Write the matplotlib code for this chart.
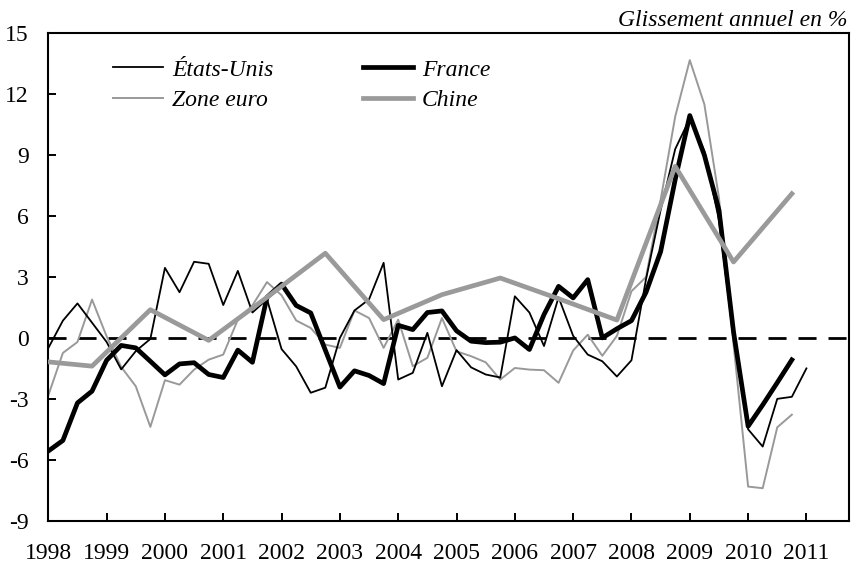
import matplotlib
matplotlib.use("Agg")
import matplotlib.pyplot as plt
import numpy as np
import pandas as pd

# quarterly axis 1998Q1 .. 2011Q4
quarters = pd.period_range("1998Q1", "2011Q4", freq="Q")
years = list(range(1998, 2012))

etats_unis = [-0.5, 0.85, 1.7, 0.75, -0.2, -1.55, -0.65, -0.05,
              3.45, 2.25, 3.75, 3.65, 1.62, 3.3, 1.25, 1.9,
              -0.55, -1.4, -2.7, -2.45, 0.0, 1.35, 1.9, 3.7,
              -2.05, -1.72, 0.25, -2.38, -0.6, -1.45, -1.8, -1.95,
              2.05, 1.25, -0.4, 2.0, 0.1, -0.82, -1.15, -1.9,
              -1.1, 2.9, 6.3, 9.3, 10.8, 9.2, 5.8, 0.0,
              -4.5, -5.35, -3.0, -2.9, -1.5]

france = [-5.57, -5.05, -3.2, -2.62, -1.1, -0.37, -0.49, -1.15,
          -1.82, -1.28, -1.22, -1.8, -1.95, -0.6, -1.2, 2.0,
          2.65, 1.6, 1.23, -0.6, -2.42, -1.62, -1.85, -2.25,
          0.62, 0.41, 1.25, 1.33, 0.35, -0.16, -0.23, -0.21,
          0.0, -0.57, 1.15, 2.54, 1.97, 2.87, 0.0, 0.45,
          0.85, 2.25, 4.25, 7.8, 10.95, 9.0, 6.3, 0.3,
          -4.35, -3.3, -2.2, -1.08]

zone_euro = [-2.83, -0.74, -0.2, 1.89, 0.08, -1.43, -2.38, -4.38,
             -2.08, -2.3, -1.56, -1.07, -0.82, 0.9, 1.6, 2.75,
             2.1, 0.86, 0.49, -0.33, -0.49, 1.35, 0.98, -0.49,
             0.9, -1.39, -0.98, 0.98, -0.66, -0.9, -1.2, -2.05,
             -1.48, -1.56, -1.59, -2.21, -0.62, 0.16, -0.88, 0.1,
             2.3, 3.0, 6.8, 10.9, 13.68, 11.5, 6.9, -0.3,
             -7.32, -7.4, -4.4, -3.78]

chine_quarters = ["1998Q1", "1998Q4", "1999Q4", "2000Q4", "2001Q4", "2002Q4",
                  "2003Q4", "2004Q4", "2005Q4", "2006Q4", "2007Q4", "2008Q4",
                  "2009Q4", "2010Q4"]
chine = [-1.18, -1.39, 1.39, -0.12, 2.0, 4.17, 0.9, 2.13, 2.95, 1.93, 0.88,
         8.45, 3.74, 7.1]

plt.rcParams["font.family"] = ["Liberation Serif", "DejaVu Serif"]
plt.rcParams["axes.unicode_minus"] = False

fig = plt.figure(figsize=(8.54, 5.73), dpi=100)
ax = fig.add_axes([48.3 / 854, 1 - 520.7 / 573, (849 - 48.3) / 854, (520.7 - 33.3) / 573])

pos = {str(q): i for i, q in enumerate(quarters)}
x_us = np.arange(len(etats_unis))
x_fr = np.arange(len(france))
x_eu = np.arange(len(zone_euro))
x_cn = [pos[q] for q in chine_quarters]

ax.axhline(0, color="black", lw=2.0, dashes=(6.5, 4.3), zorder=1)

ax.plot(x_us, etats_unis, color="black", lw=1.3, label="États-Unis", zorder=3)
ax.plot(x_eu, zone_euro, color="#999999", lw=1.4, label="Zone euro", zorder=2)
ax.plot(x_fr, france, color="black", lw=3.4, label="France", zorder=4)
ax.plot(x_cn, chine, color="#9a9a9a", lw=3.4, label="Chine", zorder=5)

ax.set_xlim(0, 54.92)
ax.set_ylim(-9, 15)
ax.set_yticks(range(-9, 16, 3))
ax.set_xticks([pos[f"{y}Q1"] for y in years])
ax.set_xticklabels([str(y) for y in years])

ax.tick_params(axis="both", direction="in", length=6, width=1.4, labelsize=17, colors="black")
ax.tick_params(axis="x", pad=16)
ax.tick_params(axis="y", pad=14, right=False)
for s in ax.spines.values():
    s.set_linewidth(1.5)
    s.set_color("black")

handles, labels = ax.get_legend_handles_labels()
ax.legend(handles, labels, ncol=2, frameon=False, loc="upper left",
          bbox_to_anchor=(113 / 854, 1 - 59 / 573), bbox_transform=fig.transFigure,
          borderpad=0, borderaxespad=0, handlelength=2.12, handletextpad=0.38,
          columnspacing=3.8, labelspacing=0.4,
          prop={"family": "Liberation Serif", "style": "italic", "size": 17})

fig.text(848 / 854, 1 - 26 / 573, "Glissement annuel en %", ha="right", va="baseline",
         fontsize=17, style="italic")

fig.savefig("out.png", dpi=100)
